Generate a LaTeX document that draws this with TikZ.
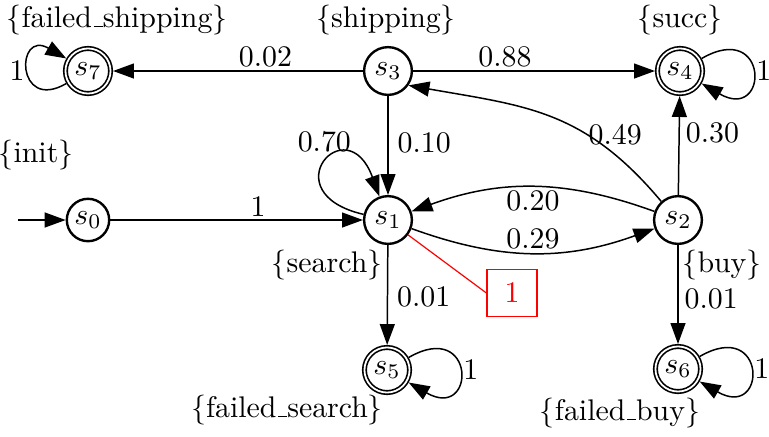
\documentclass[tikz,border=0pt]{standalone}
\usetikzlibrary{arrows.meta}
\newcommand\usc{\leavevmode\kern.06em\vbox{\hrule width.3em}}
\begin{document}
\begin{tikzpicture}[x=0.335pt,y=0.335pt,
  st/.style={circle,draw,line width=0.8pt,minimum size=16pt,inner sep=0pt},
  acc/.style={circle,draw,line width=0.55pt,double,double distance=0.6pt,minimum size=15.1pt,inner sep=0pt,outer sep=0.85pt},
  tr/.style={-{Triangle[length=7pt,width=5pt]},line width=0.5pt},
  lab/.style={inner sep=1pt},
  prop/.style={inner sep=0pt},
  selfloop/.style={looseness=8,min distance=26pt}]
\useasboundingbox (0,0) rectangle (769,-436);
% states
\node[acc] (s7) at (88,-71) {$s_7$};
\node[st]  (s3) at (388,-71) {$s_3$};
\node[acc] (s4) at (680,-71) {$s_4$};
\node[st,minimum size=14.2pt] (s0) at (88,-220) {$s_0$};
\node[st]  (s1) at (388,-220) {$s_1$};
\node[st]  (s2) at (678,-220) {$s_2$};
\node[acc] (s5) at (387,-370) {$s_5$};
\node[acc] (s6) at (678,-369) {$s_6$};
% propositions
\node[prop] (p7) at (117,-20) {$\{$failed\usc shipping$\}$};
\node[prop] (p3) at (386,-20) {$\{$shipping$\}$};
\node[prop] (p4) at (680,-20) {$\{$succ$\}$};
\node[prop] (p0) at (36,-155) {$\{$init$\}$};
\node[prop] (p1) at (327,-265) {$\{$search$\}$};
\node[prop] (p2) at (722,-265) {$\{$buy$\}$};
\node[prop] (p5) at (287,-410) {$\{$failed\usc search$\}$};
\node[prop] (p6) at (620,-413) {$\{$failed\usc buy$\}$};
% initial arrow
\coordinate (i0) at (18,-220);
\draw[tr] (i0) -- (s0);
% transitions
\draw[tr] (s3) -- node[lab,above,pos=0.39] {0.02} (s7);
\draw[tr] (s3) -- node[lab,above,pos=0.38] {0.88} (s4);
\draw[tr] (s3) -- node[lab,right,pos=0.47,inner sep=3pt] {0.10} (s1);
\draw[tr] (s0) -- node[lab,above,pos=0.585] {1} (s1);
\draw[tr] (s2) -- node[lab,right,pos=0.63,inner sep=2pt] {0.30} (s4);
\draw[tr] (s1) -- node[lab,right,pos=0.52,inner sep=3pt] {0.01} (s5);
\draw[tr] (s2) -- node[lab,right,pos=0.54,inner sep=2pt] {0.01} (s6);
\draw[tr] (s2) to[bend right=20] node[lab,below] {0.20} (s1);
\draw[tr] (s1) to[bend right=20] node[lab,above] {0.29} (s2);
\draw[tr] (s2.132) to[out=130,in=-10,looseness=1.1] node[lab,pos=0.25,anchor=south west,xshift=-7pt,yshift=-0.5pt] {0.49} (s3.-35);
\draw[tr] (s1) to[out=167,in=110,looseness=8,min distance=32pt] node[lab,pos=0.5,above=2.5pt] {0.70} (s1);
% self loops
\draw[tr] (s7) to[out=210,in=150,looseness=6,min distance=10pt] node[lab,left] {1} (s7);
\draw[tr] (s4) to[out=30,in=-30,selfloop] node[lab,right] {1} (s4);
\draw[tr] (s5) to[out=30,in=-30,selfloop] node[lab,right] {1} (s5);
\draw[tr] (s6) to[out=30,in=-30,selfloop] node[lab,right] {1} (s6);
% annotation
\node[draw=red,text=red,line width=0.4pt,minimum width=16.75pt,minimum height=16pt,inner sep=0pt] (box) at (512,-293) {1};
\draw[red,line width=0.4pt] (s1) -- (box.west);
\end{tikzpicture}
\end{document}
